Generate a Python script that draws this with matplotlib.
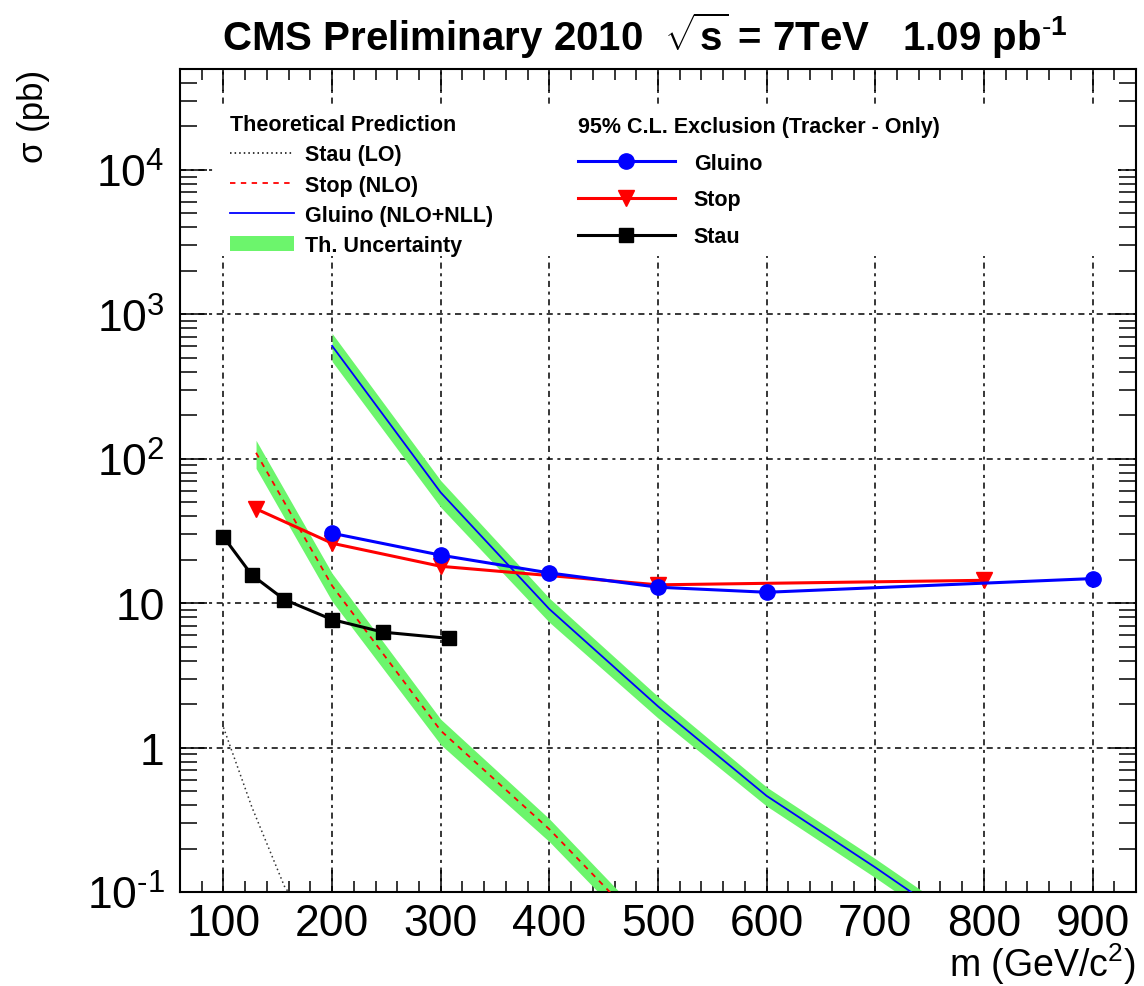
import matplotlib
matplotlib.use("Agg")
import matplotlib.pyplot as plt
from matplotlib.lines import Line2D
from matplotlib.patches import Patch, Rectangle
from matplotlib.ticker import FixedLocator, FixedFormatter, MultipleLocator, LogLocator, NullFormatter
from matplotlib.font_manager import FontProperties

# ---------------- data ----------------
# 95% C.L. exclusion limits (pb)
gluino_mass = [200, 300, 400, 500, 600, 900]
gluino_limit = [30.5, 21.5, 16.2, 12.9, 11.9, 14.8]

stop_mass = [130, 200, 300, 500, 800]
stop_limit = [45.0, 26.0, 18.0, 13.4, 14.4]

stau_mass = [100, 126, 156, 200, 247, 308]
stau_limit = [28.8, 15.7, 10.6, 7.7, 6.3, 5.7]

# theoretical cross sections (pb) and relative uncertainty
gluino_th_mass = [200, 300, 400, 500, 600, 700, 800]
gluino_th_xsec = [605.0, 58.4, 9.1, 1.93, 0.463, 0.148, 0.045]
gluino_th_unc = [0.22, 0.21, 0.19, 0.17, 0.15, 0.15, 0.15]

stop_th_mass = [130, 200, 300, 400, 500]
stop_th_xsec = [110.0, 13.2, 1.31, 0.272, 0.045]
stop_th_unc = [0.22, 0.22, 0.20, 0.18, 0.17]

stau_th_mass = [100, 126, 156, 200]
stau_th_xsec = [1.38, 0.39, 0.11, 0.035]

x_ticks = [100, 200, 300, 400, 500, 600, 700, 800, 900]
y_ticks = [0.1, 1, 10, 100, 1000, 10000]
y_tick_labels = [r"$10^{\text{-}1}$", "1", "10", r"$10^{2}$", r"$10^{3}$", r"$10^{4}$"]

title = r"CMS Preliminary 2010  $\mathbf{\sqrt{s}}$ = 7TeV   1.09 pb$^{\mathbf{\text{-}1}}$"

# ---------------- style ----------------
plt.rcParams["font.family"] = ["Liberation Sans", "DejaVu Sans"]
plt.rcParams["mathtext.fontset"] = "custom"
plt.rcParams["mathtext.rm"] = "Liberation Sans"
plt.rcParams["mathtext.it"] = "Liberation Sans:italic"
plt.rcParams["mathtext.bf"] = "Liberation Sans:bold"
plt.rcParams["mathtext.sf"] = "Liberation Sans"

W, H = 1144, 987
fig = plt.figure(figsize=(W / 100, H / 100), dpi=100)
ax = fig.add_axes([180 / W, 1 - 893 / H, 956 / W, 823 / H])

ax.set_yscale("log")
ax.set_xlim(60, 940)
ax.set_ylim(0.1, 5e4)

BLUE = "#0000ff"
RED = "#ff0000"
GREEN = "#6cf56c"

# theory bands
g_lo = [v * (1 - u) for v, u in zip(gluino_th_xsec, gluino_th_unc)]
g_hi = [v * (1 + u) for v, u in zip(gluino_th_xsec, gluino_th_unc)]
s_lo = [v * (1 - u) for v, u in zip(stop_th_xsec, stop_th_unc)]
s_hi = [v * (1 + u) for v, u in zip(stop_th_xsec, stop_th_unc)]
ax.fill_between(gluino_th_mass, g_lo, g_hi, color=GREEN, lw=0, zorder=2)
ax.fill_between(stop_th_mass, s_lo, s_hi, color=GREEN, lw=0, zorder=2)

# theory central values
ax.plot(gluino_th_mass, gluino_th_xsec, color=BLUE, lw=1.3, zorder=3)
ax.plot(stop_th_mass, stop_th_xsec, color=RED, lw=1.3, ls=(0, (3, 3)), zorder=3)
ax.plot(stau_th_mass, stau_th_xsec, color="#333333", lw=1.1, ls=(0, (1, 2)), zorder=3)

# exclusion limits
ax.plot(stop_mass, stop_limit, color=RED, lw=2.2, marker="v", ms=11, zorder=4)
ax.plot(gluino_mass, gluino_limit, color=BLUE, lw=2.2, marker="o", ms=11, zorder=5)
ax.plot(stau_mass, stau_limit, color="black", lw=2.2, marker="s", ms=10, zorder=5)

# grid
ax.set_axisbelow(True)
grid_ls = (0, (4, 3, 2, 3))
ax.grid(True, which="major", axis="both", color="black", lw=1.1, ls=grid_ls)

# white legend areas
for x0, x1 in [(213, 545), (545, 1118)]:
    ax.add_patch(Rectangle(((x0 - 180) / 956, (893 - 257) / 823), (x1 - x0) / 956, 150 / 823,
                           transform=ax.transAxes, facecolor="white", edgecolor="none", zorder=1))

# ticks
ax.xaxis.set_major_locator(FixedLocator(x_ticks))
ax.xaxis.set_minor_locator(MultipleLocator(20))
ax.yaxis.set_major_locator(FixedLocator(y_ticks))
ax.yaxis.set_major_formatter(FixedFormatter(y_tick_labels))
ax.yaxis.set_minor_locator(LogLocator(base=10, subs=range(2, 10)))
ax.yaxis.set_minor_formatter(NullFormatter())
ax.tick_params(axis="both", which="both", direction="in", top=True, right=True, width=1.1, color="black")
ax.tick_params(axis="x", which="major", length=16, pad=8, labelsize=32)
ax.tick_params(axis="x", which="minor", length=8)
ax.tick_params(axis="y", which="major", length=19.5, pad=11, labelsize=32)
ax.tick_params(axis="y", which="minor", length=12)
for s in ax.spines.values():
    s.set_linewidth(1.5)

# labels
fig.text(645 / W, 1 - 36 / H, title, ha="center", va="center", fontsize=29, fontweight="bold")
fig.text(33 / W, 1 - 70 / H, r"σ (pb)", rotation=90, ha="center", va="top", fontsize=25)
fig.text(1136 / W, 1 - 964 / H, r"m (GeV/c$^{2}$)", ha="right", va="center", fontsize=27)

# legends
bold = FontProperties(family="Liberation Sans", weight="bold", size=15.5)
th_handles = [
    Line2D([], [], color="black", lw=1.1, ls=(0, (1, 2))),
    Line2D([], [], color=RED, lw=1.3, ls=(0, (3, 3))),
    Line2D([], [], color=BLUE, lw=1.3),
    Patch(facecolor=GREEN, edgecolor="none"),
]
th_labels = ["Stau (LO)", "Stop (NLO)", "Gluino (NLO+NLL)", "Th. Uncertainty"]
leg1 = ax.legend(th_handles, th_labels, loc="upper left", bbox_to_anchor=((230 - 180) / 956, (893 - 115) / 823),
                 title="Theoretical Prediction", title_fontproperties=bold, prop=bold, frameon=False,
                 handlelength=2.95, handletextpad=0.55, labelspacing=0.43, borderpad=0, borderaxespad=0,
                 alignment="left")
ax.add_artist(leg1)

ex_handles = [
    Line2D([], [], color=BLUE, lw=2.2, marker="o", ms=11),
    Line2D([], [], color=RED, lw=2.2, marker="v", ms=11),
    Line2D([], [], color="black", lw=2.2, marker="s", ms=10),
]
ex_labels = ["Gluino", "Stop", "Stau"]
leg2 = ax.legend(ex_handles, ex_labels, loc="upper left", bbox_to_anchor=((578 - 180) / 956, (893 - 117) / 823),
                 title="95% C.L. Exclusion (Tracker - Only)", title_fontproperties=bold, prop=bold,
                 frameon=False, numpoints=1, handlelength=4.5, handletextpad=0.88, labelspacing=0.73,
                 borderpad=0, borderaxespad=0, alignment="left")

fig.savefig("out.png", dpi=100)
